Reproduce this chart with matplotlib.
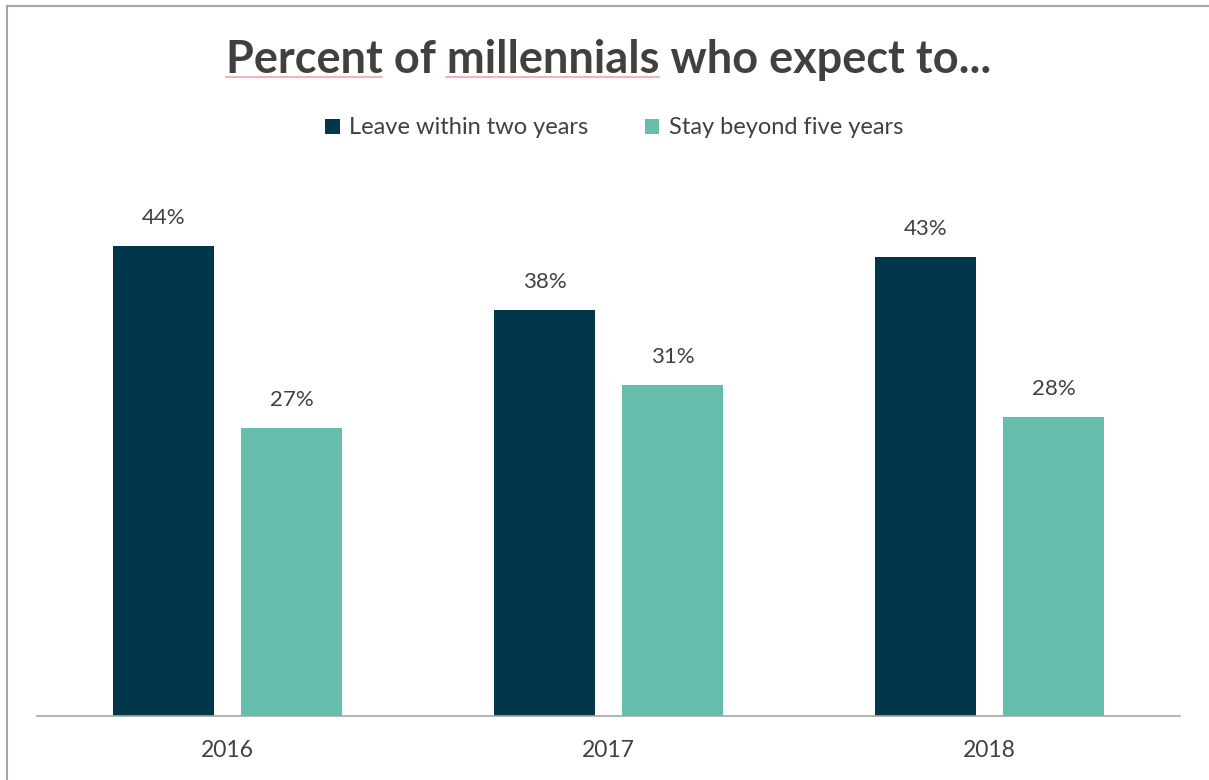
import matplotlib
matplotlib.use('Agg')
from matplotlib import pyplot as plt
from matplotlib.lines import Line2D
import numpy as np

years = ['2016', '2017', '2018']
leave = [44, 38, 43]
stay = [27, 31, 28]
seriesNames = ['Leave within two years', 'Stay beyond five years']

darkBlue = '#02364a'
teal = '#66bdab'
textGray = '#404040'
titleSize = 32.5

plt.rcParams['font.family'] = ['Lato', 'DejaVu Sans']

fig = plt.figure(figsize=(12.09, 7.80), dpi=100)
ax = fig.add_axes([37/1209, 1 - 716/780, 1143/1209, 470/780 * 50/44])

x = np.arange(len(years))
width = 0.264
offset = 0.168
bars1 = ax.bar(x - offset, leave, width, color=darkBlue, label=seriesNames[0])
bars2 = ax.bar(x + offset, stay, width, color=teal, label=seriesNames[1])

for bars, vals in ((bars1, leave), (bars2, stay)):
    for b, v in zip(bars, vals):
        ax.annotate('%d%%' % v, (b.get_x() + b.get_width() / 2, v),
                    xytext=(0, 13), textcoords='offset points',
                    ha='center', va='bottom', fontsize=16, color=textGray)

ax.set_xlim(-0.5, 2.5)
ax.set_ylim(0, 50)
ax.set_xticks(x)
ax.set_xticklabels(years, fontsize=16.5, color=textGray)
ax.tick_params(axis='x', length=0, pad=17)
ax.set_yticks([])
for side in ('top', 'right', 'left'):
    ax.spines[side].set_visible(False)
ax.spines['bottom'].set_color('#a6a6a6')
ax.spines['bottom'].set_linewidth(1.2)

title = fig.text(0.503, 1 - 60/780, 'Percent of millennials who expect to...',
                 ha='center', va='center', fontsize=titleSize, fontweight='bold',
                 color=textGray)

leg = fig.legend(loc='center', bbox_to_anchor=(0.508, 1 - 128/780), ncol=2,
                 frameon=False, fontsize=17, handlelength=0.6, handleheight=0.6,
                 handletextpad=0.4, columnspacing=2.4)
for t in leg.get_texts():
    t.set_color(textGray)

# frame lines along the top and left edges
fig.add_artist(Line2D([7/1209, 1], [1 - 6/780, 1 - 6/780], color='#a6a6a6', lw=1.5))
fig.add_artist(Line2D([7/1209, 7/1209], [0, 1 - 6/780], color='#a6a6a6', lw=1.5))

# spellcheck squiggle under "Percent" and "millennials"
fig.canvas.draw()
renderer = fig.canvas.get_renderer()
tb = title.get_window_extent(renderer)
full = title.get_text()
for word in ('Percent', 'millennials'):
    start = full.index(word)
    pre = fig.text(0, 0, full[:start], fontsize=titleSize, fontweight='bold')
    w = fig.text(0, 0, word, fontsize=titleSize, fontweight='bold')
    x0 = tb.x0 + pre.get_window_extent(renderer).width if start else tb.x0
    x1 = x0 + w.get_window_extent(renderer).width
    pre.remove()
    w.remove()
    yy = tb.y0 + 4
    fig.add_artist(Line2D([x0 / fig.bbox.width, x1 / fig.bbox.width],
                          [yy / fig.bbox.height] * 2, color='#f4a6a6', lw=1.2))

fig.savefig('out.png', dpi=100, facecolor='white')
